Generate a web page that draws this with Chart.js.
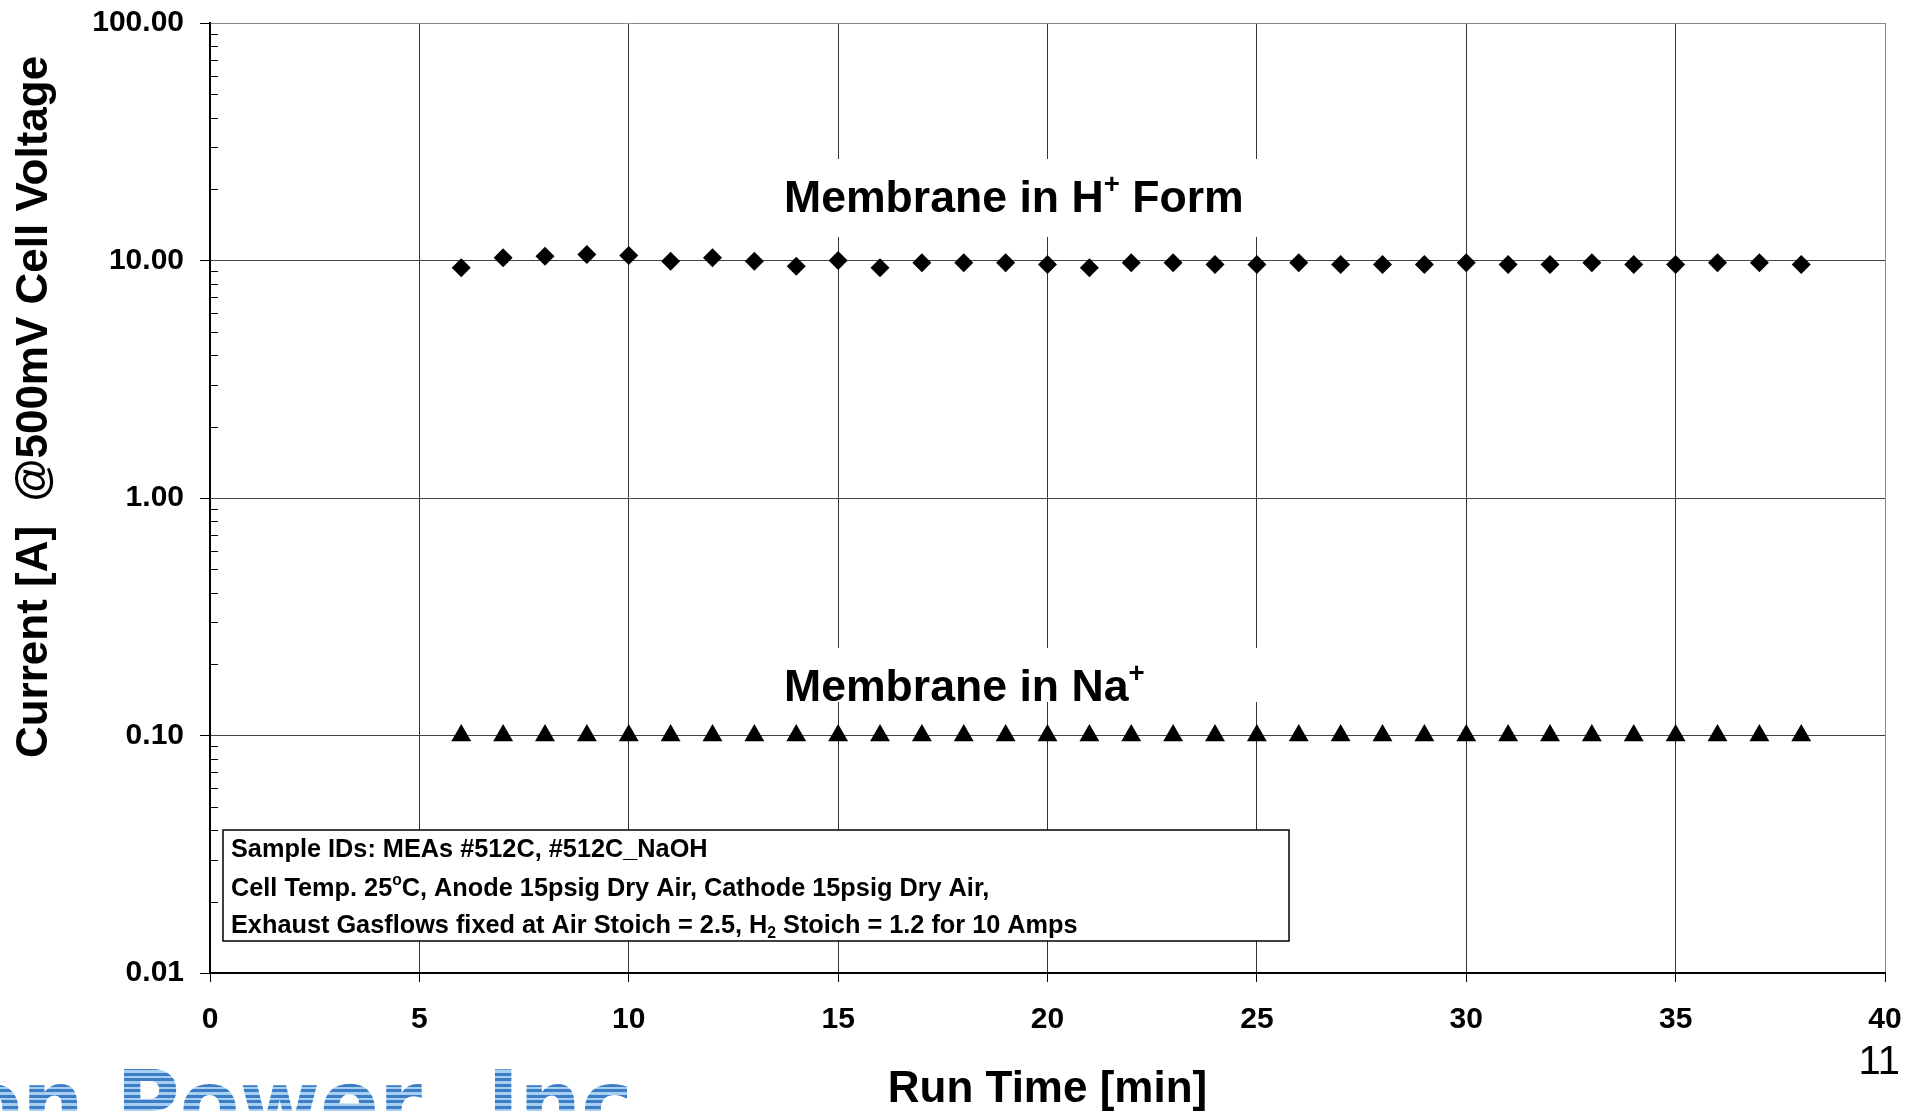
<!DOCTYPE html>
<html lang="en">
<head>
<meta charset="utf-8">
<title>Current at 500mV vs Run Time</title>
<script src="https://cdn.jsdelivr.net/npm/chart.js"></script>
<style>
  html, body { margin: 0; padding: 0; background: #fff; }
  #wrap { width: 1921px; height: 1111px; }
</style>
</head>
<body>
<div id="wrap"><canvas id="currentChart" width="1921" height="1111"></canvas></div>
<script>
  // run time [min] of each sample
  const runTime = [6, 7, 8, 9, 10, 11, 12, 13, 14, 15, 16, 17, 18, 19, 20, 21, 22,
    23, 24, 25, 26, 27, 28, 29, 30, 31, 32, 33, 34, 35, 36, 37, 38];
  // current [A] at 500 mV, membrane in H+ form
  const hFormCurrent = [9.32, 10.26, 10.42, 10.6, 10.5, 9.93, 10.26, 9.93, 9.46, 10.0, 9.32,
    9.78, 9.78, 9.78, 9.62, 9.32, 9.78, 9.78, 9.62, 9.62, 9.78, 9.62, 9.62, 9.62, 9.78,
    9.62, 9.62, 9.78, 9.62, 9.62, 9.78, 9.78, 9.62];
  // current [A] at 500 mV, membrane in Na+ form
  const naFormCurrent = [0.10, 0.10, 0.10, 0.10, 0.10, 0.10, 0.10, 0.10, 0.10, 0.10, 0.10,
    0.10, 0.10, 0.10, 0.10, 0.10, 0.10, 0.10, 0.10, 0.10, 0.10, 0.10, 0.10, 0.10, 0.10,
    0.10, 0.10, 0.10, 0.10, 0.10, 0.10, 0.10, 0.10];

  const yTicks = [0.01, 0.1, 1, 10, 100];
  const yMinorTicks = [2, 3, 4, 5, 6, 7, 8, 9];

  const FONT = '"Liberation Sans", Arial, sans-serif';

  // draw a line of text made of parts, some raised or lowered
  function drawParts(ctx, x, y, size, parts) {
    let cx = x;
    parts.forEach(p => {
      let s = size, dy = 0;
      if (p.sup) { s = size * 0.62; dy = -size * 0.42; }
      if (p.sub) { s = size * 0.62; dy = size * 0.18; }
      ctx.font = 'bold ' + s + 'px ' + FONT;
      ctx.fillText(p.t, cx, y + dy);
      cx += ctx.measureText(p.t).width;
    });
  }

  const extras = {
    id: 'extras',
    afterDatasetsDraw(chart) {
      const ctx = chart.ctx;
      const ys = chart.scales.y;
      const area = chart.chartArea;
      ctx.save();

      // minor ticks inside the y axis
      ctx.strokeStyle = '#000';
      ctx.lineWidth = 1;
      for (let d = 0.01; d < 100; d *= 10) {
        yMinorTicks.forEach(m => {
          const py = Math.round(ys.getPixelForValue(m * d)) + 0.5;
          ctx.beginPath();
          ctx.moveTo(area.left, py);
          ctx.lineTo(area.left + 8, py);
          ctx.stroke();
        });
      }

      // label boxes
      ctx.fillStyle = '#fff';
      ctx.fillRect(765, 159, 510, 78);
      ctx.fillRect(765, 648, 510, 54);
      ctx.fillStyle = '#000';
      ctx.textAlign = 'left';
      ctx.textBaseline = 'alphabetic';
      drawParts(ctx, 784, 212, 44.6, [{t: 'Membrane in H'}, {t: '+', sup: true}, {t: ' Form'}]);
      drawParts(ctx, 784, 701, 44.6, [{t: 'Membrane in Na'}, {t: '+', sup: true}]);

      // sample notes box
      ctx.fillStyle = '#fff';
      ctx.fillRect(223, 830, 1066, 111);
      ctx.strokeStyle = '#000';
      ctx.lineWidth = 1.5;
      ctx.strokeRect(223, 830, 1066, 111);
      ctx.fillStyle = '#000';
      drawParts(ctx, 231, 857, 25.3, [{t: 'Sample IDs: MEAs #512C, #512C_NaOH'}]);
      drawParts(ctx, 231, 896, 25.3, [{t: 'Cell Temp. 25'}, {t: 'o', sup: true},
        {t: 'C, Anode 15psig Dry Air, Cathode 15psig Dry Air,'}]);
      drawParts(ctx, 231, 933, 25.3, [{t: 'Exhaust Gasflows fixed at Air Stoich = 2.5, H'},
        {t: '2', sub: true}, {t: ' Stoich = 1.2 for 10 Amps'}]);

      // axis titles
      ctx.font = 'bold 44px ' + FONT;
      ctx.textAlign = 'center';
      ctx.fillText('Run Time [min]', (area.left + area.right) / 2, 1102);
      ctx.save();
      ctx.translate(47, 407);
      ctx.rotate(-Math.PI / 2);
      ctx.fillText('Current [A]  @500mV Cell Voltage', 0, 0);
      ctx.restore();

      // page number
      ctx.font = '40px ' + FONT;
      ctx.textAlign = 'right';
      ctx.fillText('11', 1900, 1074);

      // striped company logo, cut by the page edge
      const grad = ctx.createLinearGradient(0, 1062, 0, 1111);
      for (let i = 0; i < 9; i++) {
        const a = i / 9, b = (i + 0.55) / 9, c = (i + 1) / 9;
        grad.addColorStop(a, '#3e7cc6');
        grad.addColorStop(b, '#3e7cc6');
        grad.addColorStop(b, '#a6d0f0');
        grad.addColorStop(c, '#a6d0f0');
      }
      ctx.fillStyle = grad;
      ctx.font = 'bold 87px "DejaVu Sans", sans-serif';
      ctx.textAlign = 'right';
      ctx.fillText('Ion', 84, 1133);
      ctx.textAlign = 'left';
      ctx.fillText('Power,', 116, 1133);
      ctx.fillText('Inc', 487, 1133);

      ctx.restore();
    }
  };

  new Chart(document.getElementById('currentChart'), {
    type: 'scatter',
    data: {
      datasets: [{
        label: 'Membrane in H+ Form',
        data: runTime.map((t, i) => ({x: t, y: hFormCurrent[i]})),
        pointStyle: 'rectRot',
        pointRadius: 9.5,
        backgroundColor: '#000',
        borderWidth: 0
      }, {
        label: 'Membrane in Na+',
        data: runTime.map((t, i) => ({x: t, y: naFormCurrent[i]})),
        pointStyle: 'triangle',
        pointRadius: 11.5,
        backgroundColor: '#000',
        borderWidth: 0
      }]
    },
    options: {
      responsive: false,
      devicePixelRatio: 1,
      animation: false,
      layout: {padding: {top: 23, right: 36, left: 0, bottom: 0}},
      plugins: {legend: {display: false}, tooltip: {enabled: false}},
      scales: {
        x: {
          type: 'linear', min: 0, max: 40,
          afterFit: s => { s.height = 138; s.paddingLeft = 0; s.paddingRight = 0; },
          ticks: {
            stepSize: 5,
            color: '#000',
            padding: 20,
            font: {family: FONT, size: 30, weight: 'bold'}
          },
          grid: {
            color: c => (c.tick && c.tick.value === 40 ? '#888' : '#333'),
            lineWidth: 1,
            tickLength: 9,
            tickColor: '#000'
          },
          border: {color: '#000', width: 2}
        },
        y: {
          type: 'logarithmic', min: 0.01, max: 100,
          afterBuildTicks: s => { s.ticks = yTicks.map(v => ({value: v})); },
          afterFit: s => { s.width = 210; s.paddingTop = 0; s.paddingBottom = 0; },
          ticks: {
            callback: v => Number(v).toFixed(2),
            color: '#000',
            padding: 16,
            font: {family: FONT, size: 30, weight: 'bold'}
          },
          grid: {
            color: c => (c.tick && c.tick.value === 100 ? '#888' : '#444'),
            lineWidth: 1,
            tickLength: 10,
            tickColor: '#000'
          },
          border: {color: '#000', width: 2}
        }
      }
    },
    plugins: [extras]
  });
</script>
</body>
</html>
